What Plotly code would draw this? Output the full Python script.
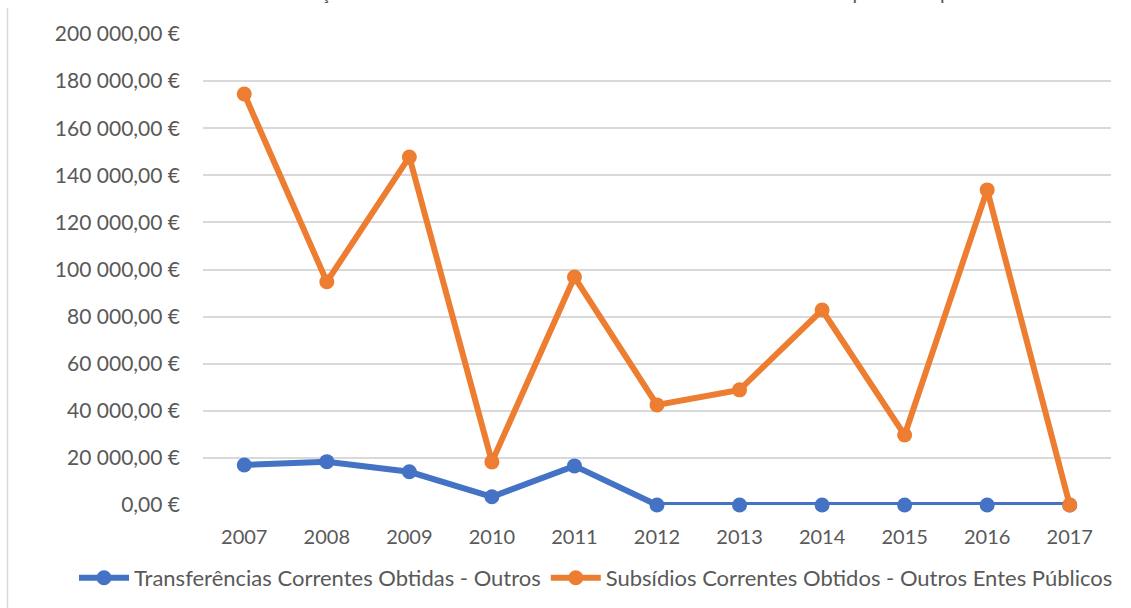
import plotly.graph_objects as go

# Years on the category axis
years = ["2007", "2008", "2009", "2010", "2011", "2012", "2013", "2014", "2015", "2016", "2017"]

# Annual amounts (EUR)
transferencias = [17000, 18400, 14100, 3500, 16600, 0, 0, 0, 0, 0, 0]
subsidios = [174500, 94800, 147800, 18300, 96800, 42500, 48900, 82800, 29700, 133800, 0]

# Value axis ticks
y_ticks = [0, 20000, 40000, 60000, 80000, 100000, 120000, 140000, 160000, 180000, 200000]
y_tick_text = [
    ("{:,.2f}".format(v)).replace(",", " ").replace(".", ",") + " €" for v in y_ticks
]

series_names = [
    "Transferências Correntes Obtidas - Outros",
    "Subsídios Correntes Obtidos - Outros Entes Públicos",
]
series_colors = ["#4472C4", "#ED7D31"]

title_text = ("Gráfico 13 - Evolução das Transferências e Subsídios Correntes "
              "Obtidos do Grupo Municipal 2007-2017")

FONT = "Lato, Open Sans, sans-serif"
TXT = "#595959"

fig = go.Figure()
for name, vals, col in zip(series_names, [transferencias, subsidios], series_colors):
    fig.add_trace(go.Scatter(
        x=years, y=vals, name=name, mode="lines+markers",
        line=dict(color=col, width=6),
        marker=dict(color=col, size=15),
        cliponaxis=False,
    ))

W, H = 1131, 608
L, R, T, B = 203, 20, 34, 103
pw, ph = W - L - R, H - T - B

fig.update_layout(
    width=W, height=H,
    margin=dict(l=L, r=R, t=T, b=B, autoexpand=False),
    paper_bgcolor="white", plot_bgcolor="white",
    font=dict(family=FONT, size=20, color=TXT),
    showlegend=True,
    legend=dict(
        orientation="h", xref="paper", yref="paper",
        x=(74 - L) / pw, xanchor="left",
        y=-(578 - (H - B)) / ph, yanchor="middle",
        font=dict(size=22, color=TXT), itemwidth=50,
        bgcolor="rgba(0,0,0,0)",
    ),
    xaxis=dict(
        type="category", range=[-0.5, len(years) - 0.5],
        showgrid=False, zeroline=False, showline=False,
        automargin=False,
        ticks="", ticklabelstandoff=18, tickfont=dict(size=20, color=TXT),
    ),
    yaxis=dict(
        range=[0, 200000], tickvals=y_ticks, ticktext=y_tick_text,
        showgrid=True, gridcolor="#D9D9D9", gridwidth=1.5,
        zeroline=False, showline=False, ticks="", automargin=False,
        ticklabelstandoff=22, tickfont=dict(size=21, color=TXT),
    ),
    shapes=[
        dict(type="line", xref="paper", yref="paper",
             x0=-(L - 7.5) / pw, x1=-(L - 7.5) / pw,
             y0=1 + (T - 8) / ph, y1=-(B + 5) / ph,
             line=dict(color="#D9D9D9", width=1.5)),
    ],
    annotations=[
        dict(text=title_text, xref="paper", yref="paper",
             x=(617 - L) / pw, y=(H - B + 8) / ph, xanchor="center", yanchor="middle",
             showarrow=False, font=dict(size=20, color=TXT, family=FONT)),
    ],
)

fig.write_html("out.html")
